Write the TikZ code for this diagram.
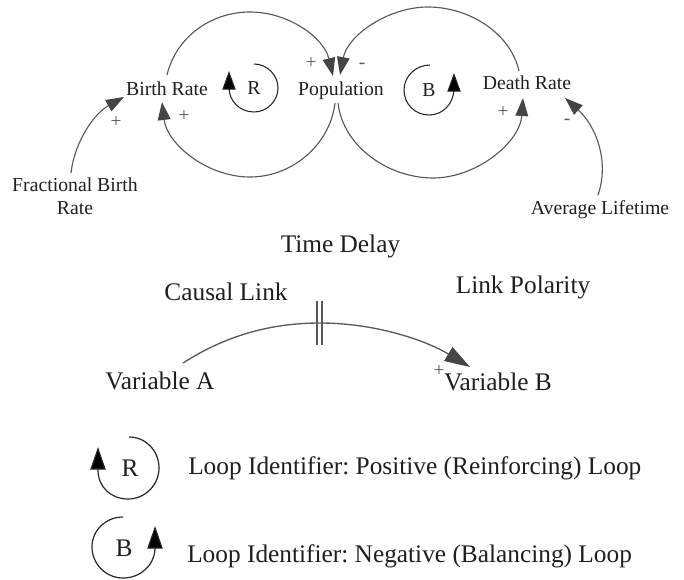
\documentclass[tikz,border=0pt]{standalone}
\usepackage{fontspec}
\setmainfont{Liberation Serif}
\usetikzlibrary{arrows.meta}
\definecolor{lnk}{gray}{0.35}
\definecolor{hd}{gray}{0.27}
\definecolor{txt}{gray}{0.12}
\frenchspacing
\tikzset{
  x=0.75pt,y=-0.75pt,
  lbl/.style={inner sep=0pt,anchor=base,text=txt,font=\fontsize{14.8}{17.5}\selectfont,align=center},
  big/.style={inner sep=0pt,anchor=base,text=txt,font=\fontsize{19.0}{22}\selectfont},
  sgn/.style={inner sep=0pt,text=lnk,font=\fontsize{14.5}{16}\selectfont},
  link/.style={draw=lnk,line width=0.85pt,-{Triangle[length=13.5pt,width=9.5pt,color=hd,fill=hd]}},
  biglink/.style={draw=lnk,line width=1pt,-{Triangle[length=19pt,width=12pt,color=hd,fill=hd]}},
  looparc/.style={draw=black!85,line width=0.8pt,-{Triangle[length=14pt,width=10pt,fill=black]}},
  legendarc/.style={draw=black!85,line width=0.9pt,-{Triangle[length=17pt,width=11.5pt,fill=black]}},
}
\begin{document}
\begin{tikzpicture}
\useasboundingbox (0,0) rectangle (684,579);
\node[lbl] (birth) at (167,95) {Birth Rate};
\node[lbl] (pop) at (341,95) {Population};
\node[lbl] (death) at (527,89) {Death Rate};
\node[lbl,anchor=center] (frac) at (75,196) {Fractional Birth\\Rate};
\node[lbl] (life) at (600,214) {Average Lifetime};
\node[big] (delay) at (340.5,252) {Time Delay};
\node[big] (causal) at (226,300) {Causal Link};
\node[big] (polar) at (523,293) {Link Polarity};
\node[big] (varA) at (160,389) {Variable A};
\node[big] (varB) at (498,390) {Variable B};
\node[big,anchor=base west] (idR) at (188,474) {Loop Identifier: Positive (Reinforcing) Loop};
\node[big,anchor=base west] (idB) at (187,562) {Loop Identifier: Negative (Balancing) Loop};
\node[lbl] (rS) at (254,94) {R};
\node[lbl] (bS) at (429,96) {B};
\node[big] (rL) at (130,476) {R};
\node[big] (bL) at (124,556) {B};
\node[sgn] (s1) at (311,63) {+};
\node[sgn] (s2) at (362,66) {-};
\node[sgn] (s3) at (116,122) {+};
\node[sgn] (s4) at (184,116) {+};
\node[sgn] (s5) at (503,112) {+};
\node[sgn] (s6) at (567,122) {-};
\node[sgn] (s7) at (439,371) {+};
\coordinate (a0) at (167,75); \coordinate (a1) at (333,76);
\coordinate (b0) at (335,103); \coordinate (b1) at (162,102);
\coordinate (c0) at (519,71); \coordinate (c1) at (340,75);
\coordinate (d0) at (338,103); \coordinate (d1) at (523,98);
\coordinate (e0) at (71,173); \coordinate (e1) at (124,97);
\coordinate (f0) at (598,195); \coordinate (f1) at (565,98);
\coordinate (g0) at (183,363); \coordinate (g1) at (470,367);
\draw[link] (a0) .. controls (176,37) and (211,12) .. (250,12) .. controls (289,12) and (324,38) .. (a1);
\draw[link] (b0) .. controls (330,145) and (292,177) .. (250,177) .. controls (207,177) and (167,144) .. (b1);
\draw[link] (c0) .. controls (510,32) and (468,7) .. (428,7) .. controls (388,7) and (347.5,35.5) .. (c1);
\draw[link] (d0) .. controls (343,147) and (389,178) .. (433,178) .. controls (477,178) and (520,142) .. (d1);
\draw[link] (e0) .. controls (75,140) and (95,113) .. (e1);
\draw[link] (f0) .. controls (610,160) and (595,125) .. (f1);
\draw[biglink] (g0) .. controls (225,336) and (270,323) .. (320,323) .. controls (375,323) and (425,340) .. (g1);
\draw[lnk,line width=0.9pt] (317,301) -- (317,345) (322,301) -- (322,345);
% small loops
\draw[looparc] (254,64) .. controls (267,64) and (278,75) .. (278,88) .. controls (278,101) and (267,112) .. (254,112) .. controls (240,112) and (229,101) .. (229,88) -- (229,71);
\draw[looparc] (430,65) .. controls (416,65) and (404,76) .. (404,90) .. controls (404,104) and (415,115) .. (429,115) .. controls (443,115) and (453,104) .. (454,90) -- (454,73);
\draw[legendarc] (129,437) .. controls (146,437) and (159,451) .. (159,468) .. controls (159,485) and (145,499) .. (128,499) .. controls (111,499) and (98,487) .. (98,470) -- (98,447);
\draw[legendarc] (123,517) .. controls (106,517) and (92,530) .. (92,547) .. controls (92,564) and (106,578) .. (123,578) .. controls (140,578) and (154,566) .. (155,549) -- (155,526);
\end{tikzpicture}
\end{document}
